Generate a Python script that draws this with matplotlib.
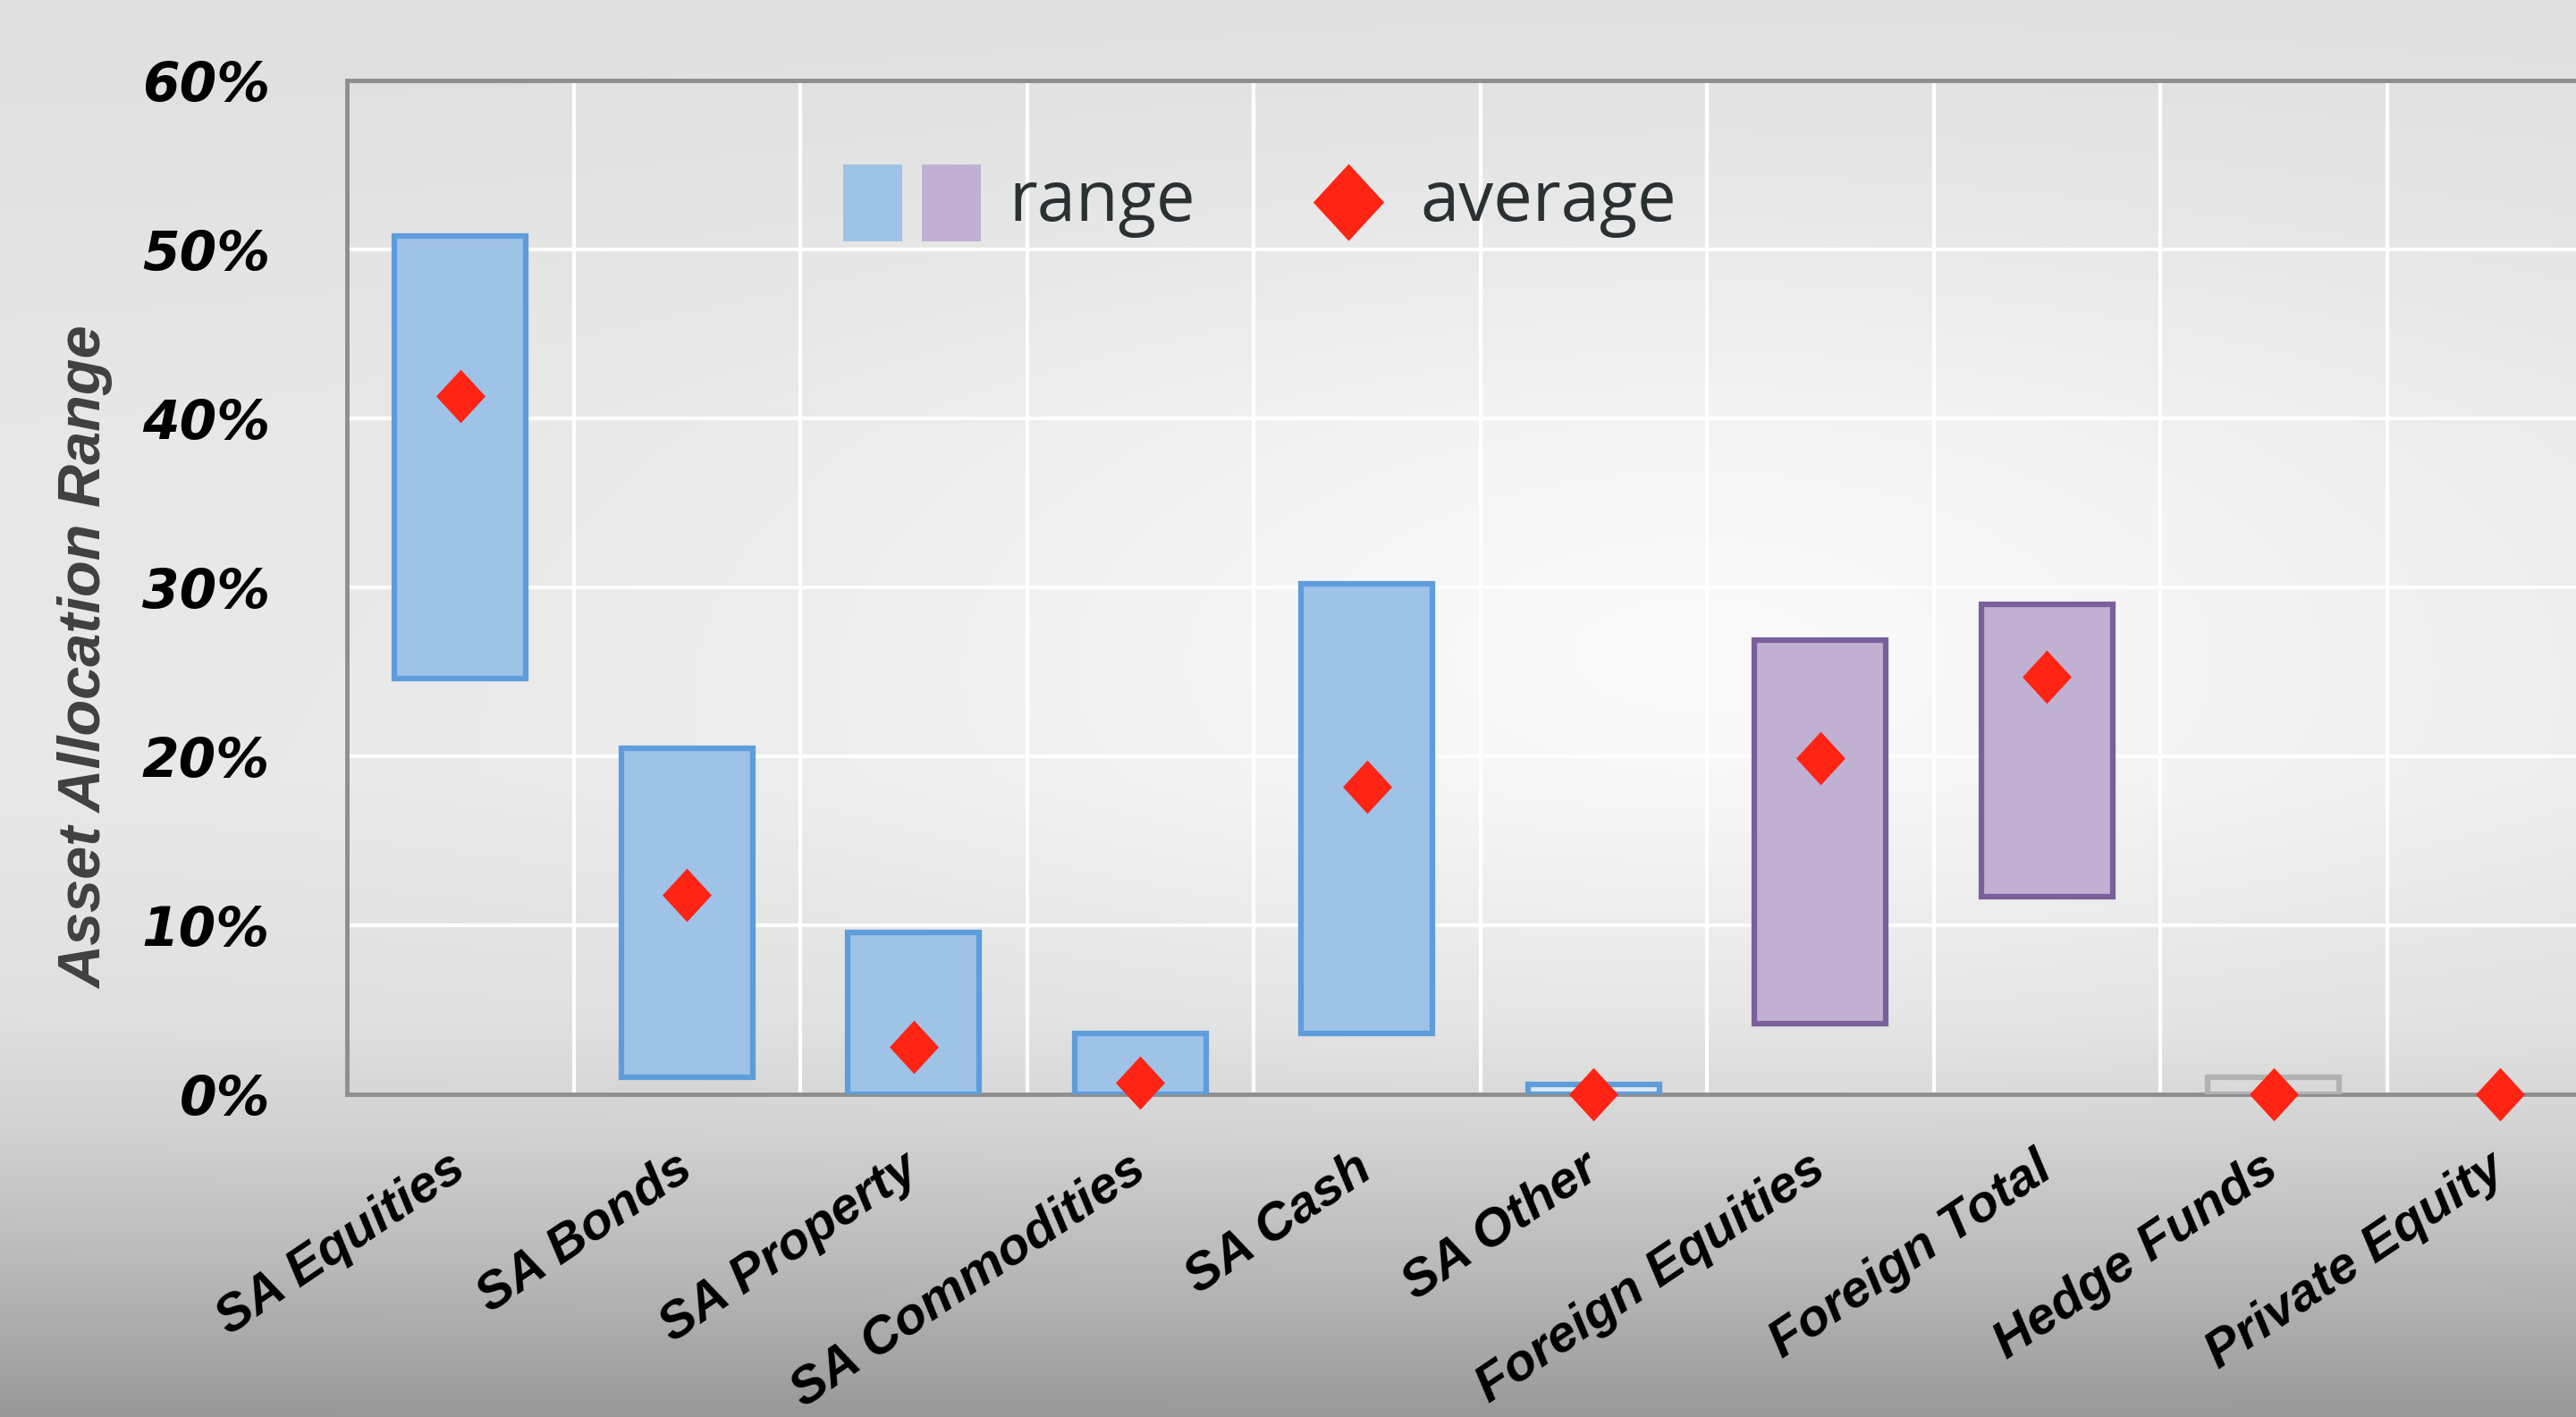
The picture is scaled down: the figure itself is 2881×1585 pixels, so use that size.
import numpy as np
import matplotlib
matplotlib.use("Agg")
import matplotlib.pyplot as plt
from matplotlib.patches import Rectangle
from matplotlib.lines import Line2D
from matplotlib.path import Path

# ---------------- data ----------------
categories = ["SA Equities", "SA Bonds", "SA Property", "SA Commodities", "SA Cash",
              "SA Other", "Foreign Equities", "Foreign Total", "Hedge Funds", "Private Equity"]
range_low = [24.6, 1.0, 0.0, 0.0, 3.6, 0.0, 4.2, 11.7, 0.0, 0.0]
range_high = [50.8, 20.5, 9.6, 3.6, 30.2, 0.6, 26.9, 29.0, 1.0, 0.0]
average = [41.3, 11.8, 2.8, 0.7, 18.2, 0.0, 19.9, 24.7, 0.0, 0.0]
y_ticks = [0, 10, 20, 30, 40, 50, 60]
y_tick_labels = ["0%", "10%", "20%", "30%", "40%", "50%", "60%"]
y_title = "Asset Allocation Range"
legend_labels = ["range", "average"]

# ---------------- styles ----------------
BLUE_F, BLUE_E = "#9fc2e7", "#5e9ddc"
PURP_F, PURP_E = "#c0b1d3", "#79609a"
RED = "#ff2414"
face_colors = [BLUE_F] * 5 + ["#dde8f6"] + [PURP_F] * 2 + ["none", "none"]
edge_colors = [BLUE_E] * 6 + [PURP_E] * 2 + ["#b2b2b2", "none"]

W, H = 2881, 1585
fig = plt.figure(figsize=(W / 100, H / 100), dpi=100)

# background gradient
bg = fig.add_axes([0, 0, 1, 1], zorder=-10)
ny, nx = 320, 580
yy, xx = np.mgrid[0:1:ny * 1j, 0:1:nx * 1j]
base = np.interp(yy, [0, 0.3, 0.55, 0.72, 0.8, 0.9, 1.0],
                 [0.875, 0.905, 0.91, 0.875, 0.82, 0.72, 0.60])
hl = 0.07 * np.exp(-((xx - 0.66) / 0.33) ** 2 - ((yy - 0.45) / 0.28) ** 2)
img = np.clip(base + hl, 0, 1)
bg.imshow(np.dstack([img, img, img]), extent=[0, 1, 0, 1], aspect="auto",
          interpolation="bilinear", origin="upper")
bg.axis("off")

# main axes (right edge runs past the picture, as in the reference)
left, right = 388 / W, 2923 / W
bottom, top = 1 - 1224 / H, 1 - 90 / H
ax = fig.add_axes([left, bottom, right - left, top - bottom])
ax.set_facecolor("none")

x = np.arange(len(categories))
heights = np.array(range_high) - np.array(range_low)
lw = [4.5 if e != "none" else 0 for e in edge_colors]
ax.bar(x, heights, bottom=range_low, width=0.58, color=face_colors,
       edgecolor=edge_colors, linewidth=lw, zorder=3)

diamond = Path([(0, 1), (0.92, 0), (0, -1), (-0.92, 0), (0, 1)],
               [Path.MOVETO, Path.LINETO, Path.LINETO, Path.LINETO, Path.CLOSEPOLY])
ax.plot(x, average, linestyle="none", marker=diamond, markersize=43,
        color=RED, markeredgewidth=0, zorder=6, clip_on=False)

ax.set_xlim(-0.5, len(categories) - 0.5)
ax.set_ylim(0, 60)
ax.set_yticks(y_ticks)
ax.set_yticklabels(y_tick_labels, fontsize=43, fontweight="bold",
                   fontstyle="italic", family="DejaVu Sans")
ax.set_xticks(x)
ax.set_xticklabels(categories, rotation=34, ha="right", va="center",
                   rotation_mode="anchor", fontsize=42, fontweight="bold",
                   fontstyle="italic", family=["Liberation Sans Narrow", "Liberation Sans"])
ax.tick_params(axis="both", length=0)
ax.tick_params(axis="y", pad=62)
ax.tick_params(axis="x", pad=56)

ax.set_xticks(np.arange(0.5, len(categories) - 1, 1.0), minor=True)
ax.tick_params(axis="x", which="minor", length=0)
ax.grid(True, which="minor", axis="x", color="white", linewidth=3, zorder=0)
ax.grid(True, which="major", axis="y", color="white", linewidth=3, zorder=0)
ax.set_axisbelow(True)

for s in ["top", "left", "bottom"]:
    ax.spines[s].set_color("#8e8e8e")
    ax.spines[s].set_linewidth(3.5)
ax.spines["right"].set_visible(False)

fig.text(96 / W, 1 - 735 / H, y_title, rotation=90, ha="center", va="center",
         fontsize=48, fontweight="bold", fontstyle="italic", color="#404040",
         family=["Liberation Sans Narrow", "Liberation Sans"])

# legend drawn by hand
fig.add_artist(Rectangle((943 / W, 1 - 270 / H), 66 / W, 86 / H, transform=fig.transFigure,
                         facecolor=BLUE_F, edgecolor="none", zorder=10))
fig.add_artist(Rectangle((1031 / W, 1 - 270 / H), 66 / W, 86 / H, transform=fig.transFigure,
                         facecolor=PURP_F, edgecolor="none", zorder=10))
fig.text(1128 / W, 1 - 226 / H, legend_labels[0], ha="left", va="center", fontsize=56,
         color="#2b3032", family="Open Sans", zorder=10)
fig.add_artist(Line2D([1508 / W], [1 - 226 / H], transform=fig.transFigure, marker=diamond,
                      markersize=62, color=RED, markeredgewidth=0, linestyle="none", zorder=10))
fig.text(1588 / W, 1 - 226 / H, legend_labels[1], ha="left", va="center", fontsize=56,
         color="#2b3032", family="Open Sans", zorder=10)

fig.savefig("out.png", dpi=100)
